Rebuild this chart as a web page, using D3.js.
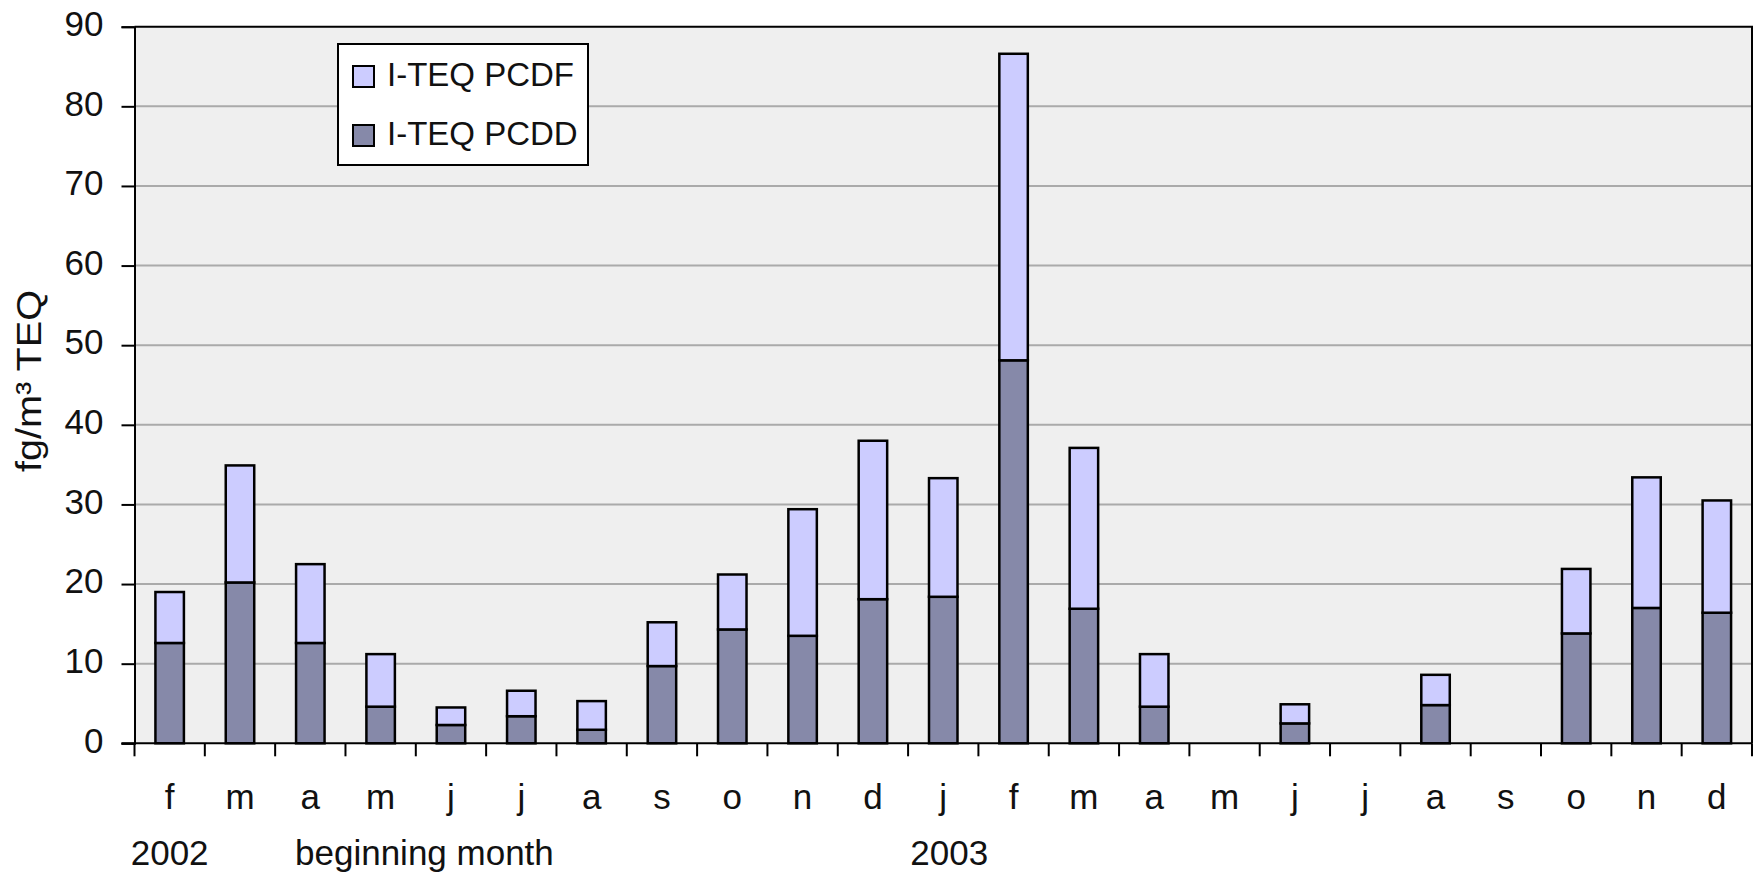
<!DOCTYPE html>
<html>
<head>
<meta charset="utf-8">
<script src="https://cdn.jsdelivr.net/npm/d3@7"></script>
<style>
  html, body { margin: 0; padding: 0; background: #ffffff; }
  svg { display: block; }
  text { font-family: "Liberation Sans", Arial, sans-serif; fill: #111; }
</style>
</head>
<body>
<svg id="chart" width="1758" height="874"></svg>
<script>
// Monthly sampling periods, Feb 2002 – Dec 2003
const months = ["f","m","a","m","j","j","a","s","o","n","d",
                "j","f","m","a","m","j","j","a","s","o","n","d"];
// I-TEQ PCDD (fg/m³ TEQ)
const pcdd = [12.6, 20.2, 12.6, 4.6, 2.3, 3.4, 1.7, 9.7, 14.3, 13.5, 18.1,
              18.4, 48.1, 16.9, 4.6, 0, 2.5, 0, 4.8, 0, 13.8, 17.0, 16.4];
// I-TEQ PCDF (fg/m³ TEQ), stacked on top of PCDD
const pcdf = [6.4, 14.7, 9.9, 6.6, 2.2, 3.2, 3.6, 5.5, 6.9, 15.9, 19.9,
              14.9, 38.5, 20.2, 6.6, 0, 2.4, 0, 3.8, 0, 8.1, 16.4, 14.1];
const yTicks = [0, 10, 20, 30, 40, 50, 60, 70, 80, 90];
const seriesNames = ["I-TEQ PCDF", "I-TEQ PCDD"];
const seriesColors = { pcdd: "#8689a9", pcdf: "#ccccff" };

const svg = d3.select("#chart");
const plot = { left: 134.5, right: 1752, top: 26.7, bottom: 743.3 };
const fontSize = 35;

const pIn = 0.595;
const x = d3.scaleBand()
  .domain(d3.range(months.length))
  .range([plot.left, plot.right])
  .paddingInner(pIn)
  .paddingOuter(pIn / 2);
const y = d3.scaleLinear().domain([0, 90]).range([plot.bottom, plot.top]);

// plot area background
svg.append("rect")
  .attr("x", plot.left).attr("y", plot.top)
  .attr("width", plot.right - plot.left).attr("height", plot.bottom - plot.top)
  .attr("fill", "#efefef");

// horizontal gridlines
svg.append("g").selectAll("line")
  .data(yTicks.filter(t => t > 0 && t < 90))
  .join("line")
  .attr("x1", plot.left).attr("x2", plot.right)
  .attr("y1", d => y(d)).attr("y2", d => y(d))
  .attr("stroke", "#aaaaaa").attr("stroke-width", 2);

// stacked data
const rows = months.map((m, i) => ({ i, pcdd: pcdd[i], pcdf: pcdf[i] }));
const stack = d3.stack().keys(["pcdd", "pcdf"]);
const layers = stack(rows);

svg.append("g").selectAll("g")
  .data(layers)
  .join("g")
  .attr("fill", d => seriesColors[d.key])
  .selectAll("rect")
  .data(d => d.filter(s => s[1] - s[0] > 0))
  .join("rect")
  .attr("x", d => x(d.data.i))
  .attr("width", x.bandwidth())
  .attr("y", d => y(d[1]))
  .attr("height", d => y(d[0]) - y(d[1]))
  .attr("stroke", "#000")
  .attr("stroke-width", 2.5);

// plot frame (top and right)
svg.append("path")
  .attr("d", `M${plot.left},${plot.top}H${plot.right}V${plot.bottom}`)
  .attr("fill", "none").attr("stroke", "#000").attr("stroke-width", 2);

// y axis
const yAxis = d3.axisLeft(y).tickValues(yTicks).tickSize(13).tickPadding(18);
const gy = svg.append("g")
  .attr("transform", `translate(${plot.left},0)`)
  .call(yAxis);
gy.select(".domain").attr("stroke", "#000").attr("stroke-width", 2);
gy.selectAll(".tick line").attr("stroke", "#000").attr("stroke-width", 2);
gy.selectAll(".tick text")
  .attr("font-size", fontSize)
  .attr("font-family", "Liberation Sans, Arial, sans-serif")
  .attr("fill", "#111")
  .attr("dy", "0.25em");

// x axis line and ticks at category boundaries
const step = x.step();
const boundaries = d3.range(months.length + 1).map(i => plot.left + i * step);
svg.append("line")
  .attr("x1", plot.left - 13).attr("x2", plot.right)
  .attr("y1", plot.bottom).attr("y2", plot.bottom)
  .attr("stroke", "#000").attr("stroke-width", 2);
svg.append("g").selectAll("line")
  .data(boundaries)
  .join("line")
  .attr("x1", d => d).attr("x2", d => d)
  .attr("y1", plot.bottom).attr("y2", plot.bottom + 13)
  .attr("stroke", "#000").attr("stroke-width", 2);

// month labels
svg.append("g").selectAll("text")
  .data(months)
  .join("text")
  .attr("x", (d, i) => x(i) + x.bandwidth() / 2)
  .attr("y", 809)
  .attr("text-anchor", "middle")
  .attr("font-size", fontSize)
  .text(d => d);

// second row: year labels and caption
svg.append("text")
  .attr("x", x(0) + x.bandwidth() / 2).attr("y", 865)
  .attr("text-anchor", "middle").attr("font-size", fontSize)
  .text("2002");
svg.append("text")
  .attr("x", plot.left + 160.5).attr("y", 865)
  .attr("text-anchor", "start").attr("font-size", fontSize)
  .text("beginning month");
svg.append("text")
  .attr("x", x(11) + x.bandwidth() / 2 + 6).attr("y", 865)
  .attr("text-anchor", "middle").attr("font-size", fontSize)
  .text("2003");

// y axis title
svg.append("text")
  .attr("transform", "translate(41,381) rotate(-90)")
  .attr("text-anchor", "middle")
  .attr("font-size", fontSize)
  .attr("textLength", 182)
  .attr("lengthAdjust", "spacingAndGlyphs")
  .text("fg/m³ TEQ");

// legend
const legend = svg.append("g").attr("transform", "translate(338,44)");
legend.append("rect")
  .attr("width", 250).attr("height", 121)
  .attr("fill", "#fff").attr("stroke", "#000").attr("stroke-width", 2);
const legendItems = [
  { name: seriesNames[0], color: seriesColors.pcdf },
  { name: seriesNames[1], color: seriesColors.pcdd }
];
const li = legend.selectAll("g.item")
  .data(legendItems)
  .join("g")
  .attr("class", "item")
  .attr("transform", (d, i) => `translate(0,${22 + i * 59})`);
li.append("rect")
  .attr("x", 15).attr("y", 0).attr("width", 21).attr("height", 21)
  .attr("fill", d => d.color).attr("stroke", "#000").attr("stroke-width", 2);
li.append("text")
  .attr("x", 49).attr("y", 20)
  .attr("font-size", 33)
  .text(d => d.name);
</script>
</body>
</html>
